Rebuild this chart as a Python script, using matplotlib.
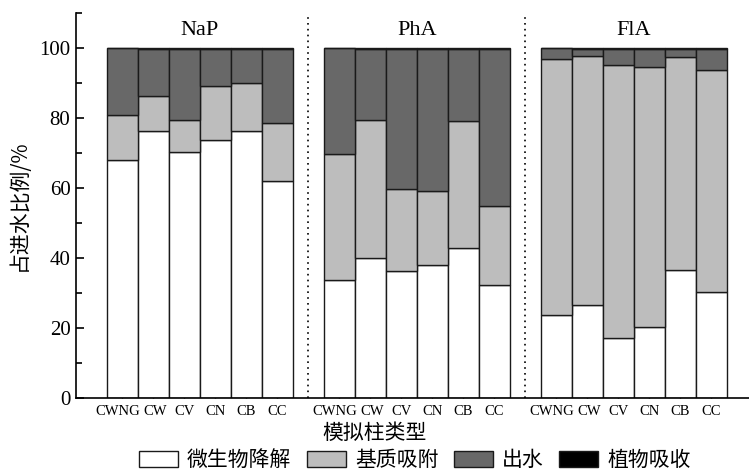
import matplotlib
matplotlib.use("Agg")
import matplotlib.pyplot as plt
from matplotlib.patches import Patch
from matplotlib.ticker import MultipleLocator
from matplotlib.transforms import ScaledTranslation
import numpy as np

# Columns and pollutants
columns = ["CWNG", "CW", "CV", "CN", "CB", "CC"]
pollutants = ["NaP", "PhA", "FlA"]

# Fate of influent load (% of inflow), per pollutant, per column
microbial = {
    "NaP": [68.0, 76.4, 70.2, 73.6, 76.4, 62.0],
    "PhA": [33.7, 39.9, 36.3, 38.0, 42.9, 32.1],
    "FlA": [23.7, 26.5, 17.0, 20.1, 36.5, 30.2],
}
substrate = {
    "NaP": [12.9, 9.9, 9.3, 15.6, 13.6, 16.5],
    "PhA": [36.0, 39.4, 23.4, 21.2, 36.1, 22.6],
    "FlA": [73.2, 71.1, 78.0, 74.5, 60.8, 63.5],
}
plant = {
    "NaP": [0.0, 0.3, 0.3, 0.3, 0.3, 0.3],
    "PhA": [0.0, 0.3, 0.3, 0.3, 0.3, 0.3],
    "FlA": [0.0, 0.3, 0.3, 0.3, 0.3, 0.3],
}

legend_labels = ["微生物降解", "基质吸附", "出水", "植物吸收"]
colors = ["#ffffff", "#bdbdbd", "#686868", "#000000"]

serif = ["Liberation Serif", "DejaVu Serif"]
cjk = ["Noto Sans CJK SC", "DejaVu Sans"]

fig = plt.figure(figsize=(7.49, 4.74), dpi=100)
ax = fig.add_axes([76 / 749, 1 - 397.7 / 474, 1 - 76 / 749, (397.7 - 13) / 474])

bar_w = 1.0
xticks, xticklabels = [], []
for g, name in enumerate(pollutants):
    x = np.arange(len(columns)) + g * 7
    m = np.array(microbial[name])
    s = np.array(substrate[name])
    p = np.array(plant[name])
    o = 100.0 - m - s - p
    bottoms = np.zeros(len(columns))
    for vals, c in zip([m, s, o, p], colors):
        ax.bar(x, vals, bottom=bottoms, width=bar_w, color=c,
               edgecolor="#1a1a1a", linewidth=1.0, zorder=2)
        bottoms = bottoms + vals
    ax.text(x.mean(), 105, name, ha="center", va="center",
            family=serif, fontsize=16)
    xticks.extend(x)
    xticklabels.extend(columns)

for xv in (6, 13):
    ax.axvline(xv, color="black", linestyle=(0, (1, 2.5)), linewidth=1.2, zorder=1)

ax.set_xlim(-1.5, 20.21)
ax.set_ylim(0, 110)
ax.spines["top"].set_visible(False)
ax.spines["right"].set_visible(False)
for sp in ("left", "bottom"):
    ax.spines[sp].set_linewidth(1.2)

ax.set_xticks(xticks)
ax.set_xticklabels(xticklabels, family=serif, fontsize=10.5)
ax.tick_params(axis="x", direction="in", length=4, width=1, pad=5)
# nudge the long "CWNG" labels left so they clear their neighbours
for lab in ax.get_xticklabels():
    if lab.get_text() == "CWNG":
        lab.set_transform(lab.get_transform() + ScaledTranslation(-5 / 100, 0, fig.dpi_scale_trans))
    elif lab.get_text() == "CW":
        lab.set_transform(lab.get_transform() + ScaledTranslation(1.5 / 100, 0, fig.dpi_scale_trans))

ax.yaxis.set_major_locator(MultipleLocator(20))
ax.yaxis.set_minor_locator(MultipleLocator(10))
ax.tick_params(axis="y", which="major", direction="in", length=6, width=1.2,
               labelsize=15, pad=4)
ax.tick_params(axis="y", which="minor", direction="in", length=4, width=1.2)
for lab in ax.get_yticklabels():
    lab.set_family(serif)

ax.set_ylabel("占进水比例/%", family=cjk, fontsize=15, labelpad=7)

fig.text(375 / 749, 1 - 433 / 474, "模拟柱类型", ha="center", va="center",
         family=cjk, fontsize=15)

handles = [Patch(facecolor=c, edgecolor="#1a1a1a", linewidth=1.0) for c in colors]
fig.legend(handles, legend_labels, loc="center", bbox_to_anchor=(415 / 749, 1 - 460 / 474),
           ncol=4, frameon=False, prop={"family": cjk, "size": 15},
           handlelength=1.85, handleheight=0.8, handletextpad=0.45, columnspacing=0.75)

fig.savefig("out.png", dpi=100)
